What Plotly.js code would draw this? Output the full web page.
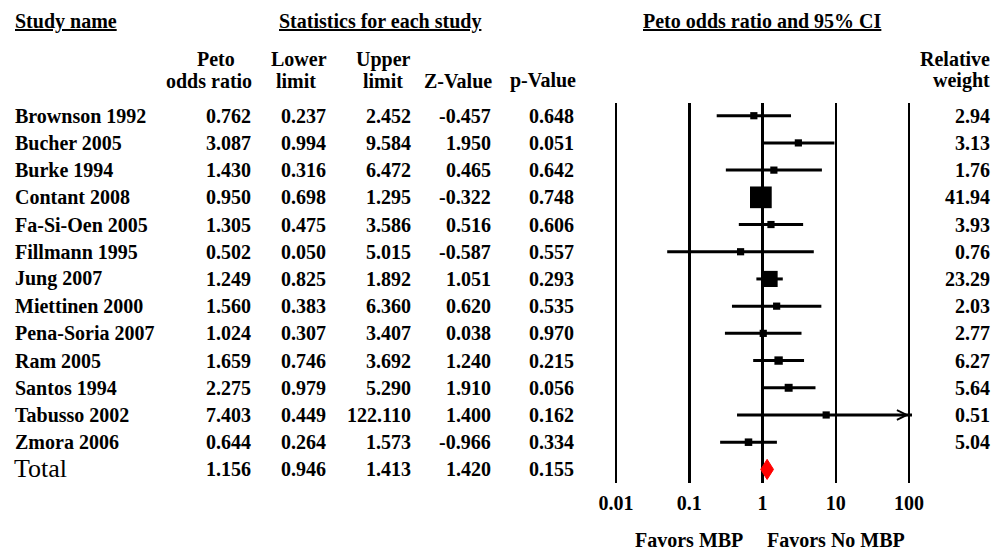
<!DOCTYPE html>
<html>
<head>
<meta charset="utf-8">
<script src="https://cdn.plot.ly/plotly-3.0.1.min.js"></script>
<style>html,body{margin:0;padding:0;background:#fff;}#chart{width:1003px;height:552px;}</style>
</head>
<body>
<div id="chart"></div>
<script>
// ---- data ----
const studies = ['Brownson 1992','Bucher 2005','Burke 1994','Contant 2008','Fa-Si-Oen 2005','Fillmann 1995','Jung 2007','Miettinen 2000','Pena-Soria 2007','Ram 2005','Santos 1994','Tabusso 2002','Zmora 2006'];
const oddsRatio = [0.762,3.087,1.430,0.950,1.305,0.502,1.249,1.560,1.024,1.659,2.275,7.403,0.644];
const lowerLimit = [0.237,0.994,0.316,0.698,0.475,0.050,0.825,0.383,0.307,0.746,0.979,0.449,0.264];
const upperLimit = [2.452,9.584,6.472,1.295,3.586,5.015,1.892,6.360,3.407,3.692,5.290,122.110,1.573];
const zValue = [-0.457,1.950,0.465,-0.322,0.516,-0.587,1.051,0.620,0.038,1.240,1.910,1.400,-0.966];
const pValue = [0.648,0.051,0.642,0.748,0.606,0.557,0.293,0.535,0.970,0.215,0.056,0.162,0.334];
const relWeight = [2.94,3.13,1.76,41.94,3.93,0.76,23.29,2.03,2.77,6.27,5.64,0.51,5.04];
const totalLabel = 'Total';
const totalOR = 1.156, totalLower = 0.946, totalUpper = 1.413, totalZ = 1.420, totalP = 0.155;
const tickVals = [0.01,0.1,1,10,100];
const tickText = ['0.01','0.1','1','10','100'];
const favorsLeft = 'Favors MBP', favorsRight = 'Favors No MBP';

// ---- layout helpers ----
const W = 1003, H = 552;
const px = x => x / W;
const py = y => 1 - y / H;
const FONT = 'Liberation Serif, Times New Roman, serif';
const bold = {family: FONT, size: 20, color: '#000', weight: 700};
const axMin = tickVals[0], axMax = tickVals[tickVals.length - 1];

const n = studies.length;
const totalRow = n;

// CI lines
const ciX = [], ciY = [];
for (let i = 0; i < n; i++) {
  ciX.push(lowerLimit[i], upperLimit[i], null);
  ciY.push(i, i, null);
}
const ciTrace = {x: ciX, y: ciY, mode: 'lines', type: 'scatter',
  line: {color: '#000', width: 3}, hoverinfo: 'skip'};

const boxTrace = {x: oddsRatio, y: studies.map((_, i) => i), mode: 'markers', type: 'scatter',
  marker: {symbol: 'square', color: '#000', opacity: 1, size: relWeight.map(w => Math.max(7.2, 3.35 * Math.sqrt(w))), line: {width: 0}},
  hoverinfo: 'skip'};

const dh = 0.37;
const diamond = {x: [totalLower, totalOR, totalUpper, totalOR, totalLower],
  y: [totalRow, totalRow - dh, totalRow, totalRow + dh, totalRow],
  mode: 'lines', fill: 'toself', fillcolor: '#ff0000', line: {color: '#ff0000', width: 1}, type: 'scatter', hoverinfo: 'skip'};

const ann = [];
function add(text, x, y, xanchor, font, yref) {
  ann.push({text: text, x: x, y: y, xref: 'paper', yref: yref || 'paper', xanchor: xanchor, yanchor: 'middle',
    showarrow: false, font: font || bold, align: xanchor === 'right' ? 'right' : (xanchor === 'left' ? 'left' : 'center')});
}
const under = Object.assign({}, bold, {lineposition: 'under'});
// headers
add('Study name', px(13), py(21), 'left', under);
add('Statistics for each study', px(380), py(21), 'center', under);
add('Peto odds ratio and 95% CI', px(762), py(21), 'center', under);
add('Peto', px(216), py(59), 'center');
add('odds ratio', px(254), py(81), 'right');
add('Lower', px(299), py(59), 'center');
add('limit', px(296), py(81), 'center');
add('Upper', px(383), py(59), 'center');
add('limit', px(383), py(81), 'center');
add('Z-Value', px(494), py(81), 'right');
add('p-Value', px(578), py(81), 'right');
add('Relative', px(992), py(59), 'right');
add('weight', px(992), py(81), 'right');

const colRight = [253, 328, 413, 493, 576];
for (let i = 0; i < n; i++) {
  add(studies[i], px(13), i, 'left', bold, 'y');
  const vals = [oddsRatio[i].toFixed(3), lowerLimit[i].toFixed(3), upperLimit[i].toFixed(3), zValue[i].toFixed(3), pValue[i].toFixed(3)];
  vals.forEach((v, k) => add(v, px(colRight[k]), i, 'right', bold, 'y'));
  add(relWeight[i].toFixed(2), px(992), i, 'right', bold, 'y');
}
add(totalLabel, px(12), totalRow - 0.05, 'left', {family: FONT, size: 26, color: '#000'}, 'y');
[totalOR, totalLower, totalUpper, totalZ, totalP].forEach((v, k) => add(v.toFixed(3), px(colRight[k]), totalRow, 'right', bold, 'y'));

// favors labels (annotation x on log axis is log10)
ann.push({text: favorsLeft, x: Math.log10(tickVals[1]), y: py(540), xref: 'x', yref: 'paper', showarrow: false, xanchor: 'center', yanchor: 'middle', font: bold});
ann.push({text: favorsRight, x: Math.log10(tickVals[3]), y: py(540), xref: 'x', yref: 'paper', showarrow: false, xanchor: 'center', yanchor: 'middle', font: bold});

// arrows for CIs beyond axis
for (let i = 0; i < n; i++) {
  if (upperLimit[i] > axMax) {
    ann.push({text: '', x: Math.log10(axMax), y: i, xref: 'x', yref: 'y', showarrow: true, ax: -12, ay: 0,
      axref: 'pixel', ayref: 'pixel', arrowhead: 5, arrowsize: 1.3, arrowwidth: 1.5, arrowcolor: '#000', standoff: 0});
  }
}

const pad = 0.04;
const decadePx = (909 - 616) / 4;
const layout = {
  width: W, height: H,
  margin: {l: 0, r: 0, t: 0, b: 0, pad: 0},
  paper_bgcolor: '#fff', plot_bgcolor: '#fff',
  showlegend: false,
  xaxis: {type: 'log', range: [Math.log10(axMin) - pad, Math.log10(axMax) + pad],
    domain: [px(616 - pad * decadePx), px(909 + pad * decadePx)],
    tickvals: tickVals, ticktext: tickText, ticks: '', showgrid: true, gridcolor: '#000', gridwidth: 2.5,
    zeroline: false, showline: false, tickfont: {family: FONT, size: 20, color: '#000', weight: 700},
    ticklabelstandoff: 6, fixedrange: true},
  yaxis: {range: [13.5, -0.467], domain: [py(483), py(103)], showgrid: false, zeroline: false,
    showticklabels: false, showline: false, ticks: '', fixedrange: true},
  annotations: ann
};

Plotly.newPlot('chart', [ciTrace, boxTrace, diamond], layout, {staticPlot: true, displayModeBar: false});
</script>
</body>
</html>
